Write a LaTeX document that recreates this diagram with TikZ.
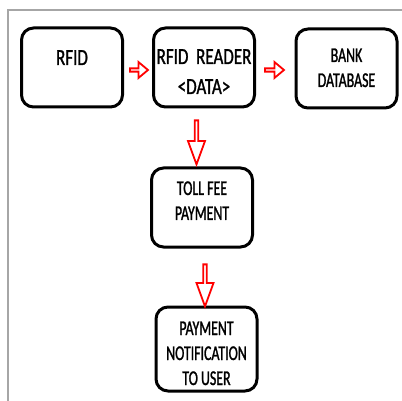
\documentclass[tikz,border=0pt]{standalone}
\usepackage{fontspec}
\setmainfont{Carlito}[FakeStretch=0.66, FakeBold=1.2]
\newfontfamily\widefont{Carlito}[FakeStretch=0.74, FakeBold=1.2]
\usetikzlibrary{shapes.arrows}

\begin{document}
\begin{tikzpicture}[%
    x=1pt, y=-1pt,
    block/.style={%
        draw,
        line width=3pt,
        rounded corners=12pt,
        minimum width=101pt,
        minimum height=79pt,
        inner sep=0pt,
        align=center,
        font=\fontsize{21}{25}\selectfont
    },
    bigtext/.style={%
        font=\widefont\fontsize{23}{30}\selectfont
    },
    flow/.style={%
        single arrow,
        draw=red,
        fill=white,
        line width=1.8pt,
        inner sep=0pt,
        minimum width=16pt,
        single arrow head extend=3.5pt,
        single arrow head indent=0pt
    },
    frame/.style={%
        draw=black!35,
        line width=2pt
    }
]
\useasboundingbox (0,0) rectangle (402,401);

% Frame
    \draw[frame] (8,401) -- (8,10) -- (402,10);

% Top row
    \node[block, bigtext, text height=15pt, text depth=20pt] (rfid) at (72,67.5) {RFID};
    \node[block, bigtext, text height=59pt, text depth=6pt] (reader) at (204,67.5) {RFID\ \ READER\\<DATA>};
    \node[block, text height=43pt, text depth=6pt] (bank) at (346.5,68.5) {BANK\\DATABASE};

% Column below the reader
    \node[block, text height=43pt, text depth=18pt] (toll) at (202,207.5) {TOLL FEE\\PAYMENT};
    \node[block, text height=78pt, text depth=6pt] (notify) at (206.5,349) {PAYMENT\\NOTIFICATION\\TO USER};

% Arrows
    \node[flow, minimum height=18pt, single arrow tip angle=80] (rfid2reader) at (138,70) {};
    \node[flow, minimum height=19pt, single arrow tip angle=80] (reader2bank) at (273.5,70) {};
    \node[flow, minimum height=44pt, minimum width=17pt, single arrow tip angle=40, shape border rotate=270] (reader2toll) at (196.5,140) {};
    \node[flow, minimum height=42pt, minimum width=17pt, single arrow tip angle=40, shape border rotate=270] (toll2notify) at (205,283) {};

\end{tikzpicture}
\end{document}
